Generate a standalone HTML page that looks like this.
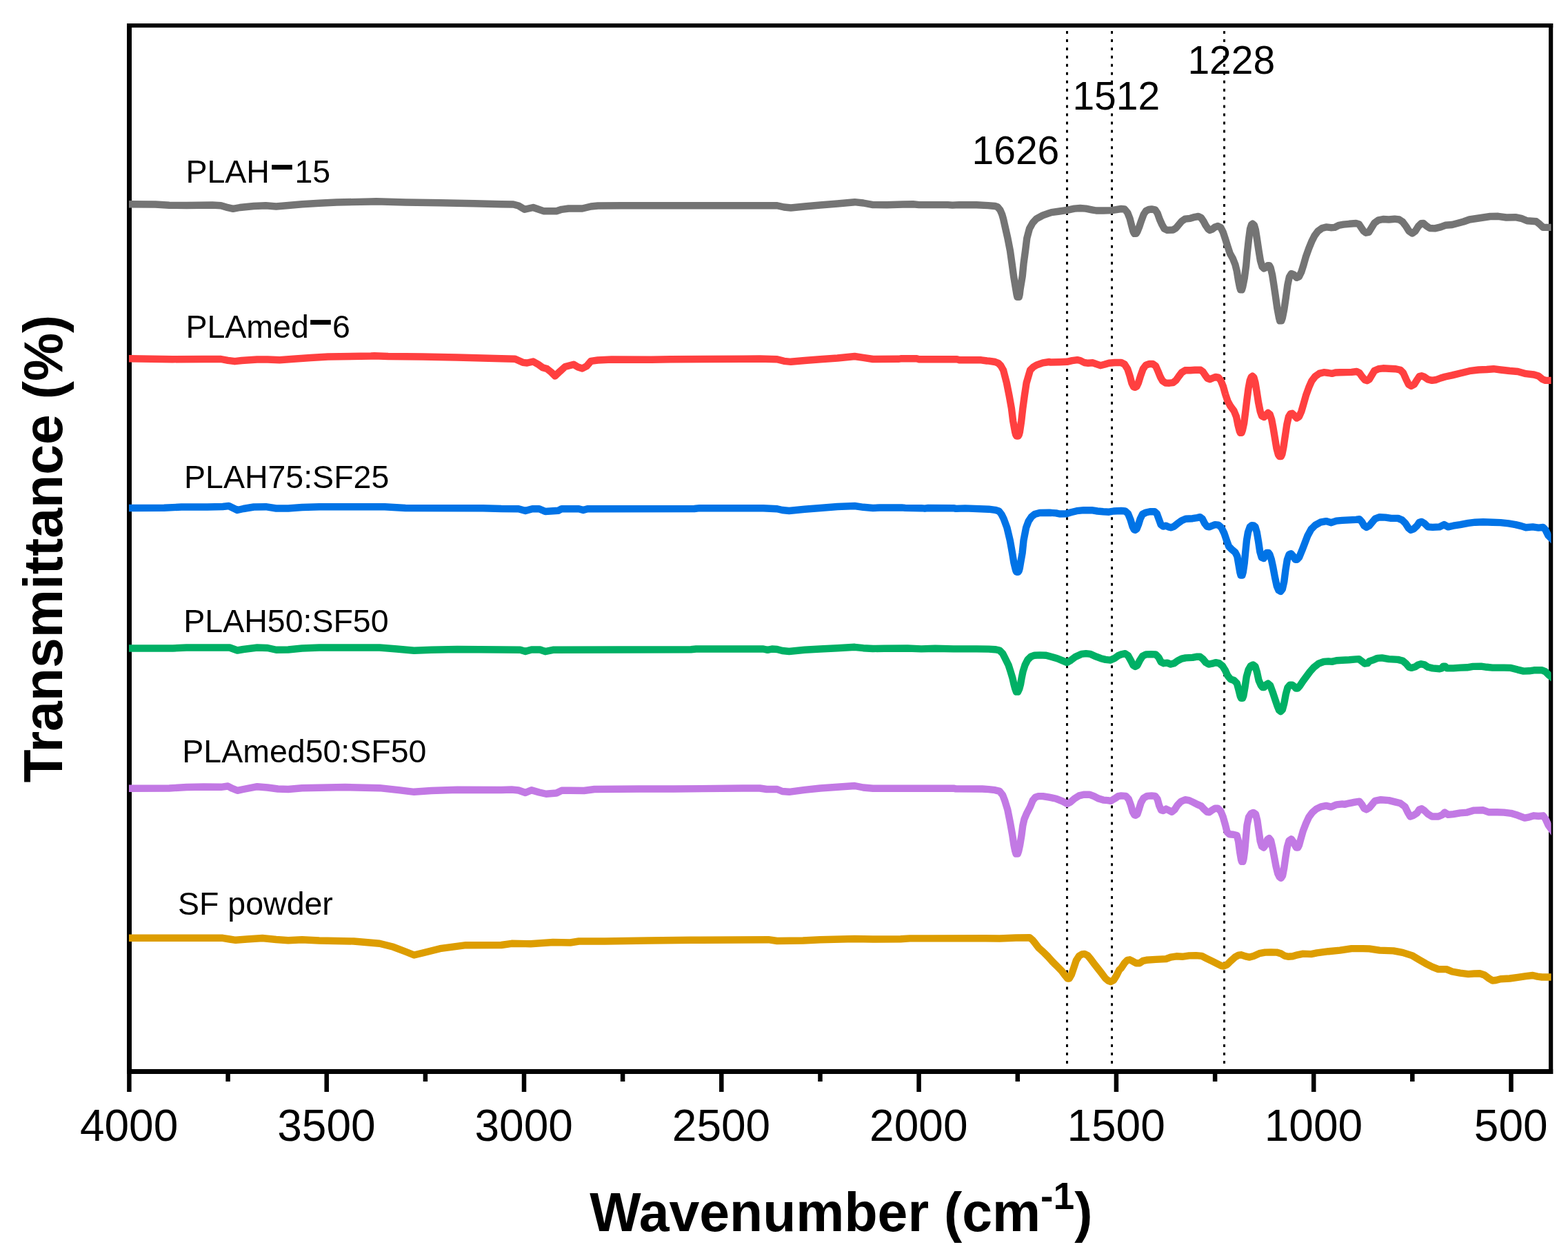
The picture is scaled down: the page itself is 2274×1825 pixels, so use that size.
<!DOCTYPE html>
<html lang="en"><head><meta charset="utf-8"><title>FTIR spectra</title>
<style>
html,body{margin:0;padding:0;background:#fff;}
body{width:2274px;height:1825px;overflow:hidden;}
svg{display:block;}
text{font-family:"Liberation Sans",Arial,Helvetica,sans-serif;fill:#000;}
.tick{font-size:64px;text-anchor:middle;}
.lab{font-size:46.5px;}
.ann{font-size:57px;}
.ax{font-size:78.8px;font-weight:bold;}
.c{fill:none;stroke-width:10.4;stroke-linejoin:round;stroke-linecap:butt;}
.k{stroke:#000;stroke-width:6.5;fill:none;}
.dot{stroke:#000;stroke-width:3;stroke-dasharray:4 7.952;fill:none;}
</style></head><body>
<svg xmlns="http://www.w3.org/2000/svg" width="2274" height="1825" viewBox="0 0 2274 1825">
<rect x="0" y="0" width="2274" height="1825" fill="#fff"/>
<g id="axes">
<rect x="184" y="34" width="7" height="1524" fill="#000"/>
<rect x="2246" y="34" width="6.2" height="1524" fill="#000"/>
<rect x="184" y="34" width="2068.2" height="6" fill="#000"/>
<rect x="184" y="1551" width="2068.2" height="7" fill="#000"/>
<line class="k" x1="187.4" y1="1556" x2="187.4" y2="1584"/>
<line class="k" x1="473.7" y1="1556" x2="473.7" y2="1584"/>
<line class="k" x1="760.0" y1="1556" x2="760.0" y2="1584"/>
<line class="k" x1="1046.3" y1="1556" x2="1046.3" y2="1584"/>
<line class="k" x1="1332.6" y1="1556" x2="1332.6" y2="1584"/>
<line class="k" x1="1618.9" y1="1556" x2="1618.9" y2="1584"/>
<line class="k" x1="1905.2" y1="1556" x2="1905.2" y2="1584"/>
<line class="k" x1="2191.5" y1="1556" x2="2191.5" y2="1584"/>
<line class="k" x1="330.6" y1="1556" x2="330.6" y2="1569"/>
<line class="k" x1="616.9" y1="1556" x2="616.9" y2="1569"/>
<line class="k" x1="903.1" y1="1556" x2="903.1" y2="1569"/>
<line class="k" x1="1189.5" y1="1556" x2="1189.5" y2="1569"/>
<line class="k" x1="1475.8" y1="1556" x2="1475.8" y2="1569"/>
<line class="k" x1="1762.1" y1="1556" x2="1762.1" y2="1569"/>
<line class="k" x1="2048.3" y1="1556" x2="2048.3" y2="1569"/>
</g>
<g id="guides">
<line class="dot" x1="1547.5" y1="45" x2="1547.5" y2="1551"/>
<line class="dot" x1="1612.5" y1="45" x2="1612.5" y2="1551"/>
<line class="dot" x1="1775.5" y1="45" x2="1775.5" y2="1551"/>
</g>
<defs><clipPath id="plotclip"><rect x="187" y="38" width="2062.6" height="1515"/></clipPath></defs>
<g id="spectra" clip-path="url(#plotclip)">
<polyline class="c" stroke="#dd9d00" points="182.0,1360.8 188.0,1360.8 323.0,1360.8 333.0,1362.5 341.8,1363.8 358.0,1362.5 380.5,1361.0 400.5,1363.0 418.0,1364.2 438.0,1363.2 463.0,1364.5 513.0,1365.5 550.5,1368.8 570.5,1373.8 588.0,1380.5 600.5,1385.5 613.0,1382.5 638.0,1376.2 675.5,1371.2 727.0,1371.0 742.0,1368.8 769.5,1369.2 802.0,1367.0 827.0,1367.5 839.5,1365.5 877.0,1365.5 939.5,1364.5 1002.0,1363.8 1114.5,1363.2 1127.0,1365.0 1164.5,1364.5 1189.5,1363.2 1239.5,1362.0 1266.0,1362.5 1306.1,1362.2 1319.4,1361.4 1346.1,1361.4 1429.6,1361.2 1449.7,1361.5 1473.1,1360.5 1493.1,1360.2 1497.3,1363.5 1501.4,1368.6 1506.4,1375.2 1513.1,1381.1 1519.8,1387.8 1526.5,1395.3 1533.2,1401.9 1539.8,1408.6 1544.8,1415.3 1548.2,1419.5 1550.7,1419.5 1554.0,1413.6 1557.4,1403.6 1560.7,1393.6 1564.9,1386.9 1569.1,1384.4 1572.9,1383.9 1577.4,1386.1 1581.6,1391.1 1586.6,1397.8 1592.4,1405.3 1598.3,1412.8 1603.3,1419.5 1607.5,1422.8 1610.8,1424.0 1615.0,1422.0 1619.2,1415.3 1623.3,1407.0 1626.0,1404.5 1631.0,1396.9 1635.2,1392.8 1638.5,1392.3 1642.7,1394.4 1647.7,1397.3 1652.7,1397.3 1657.7,1393.9 1662.7,1392.8 1676.1,1391.9 1691.1,1391.1 1697.8,1388.6 1706.1,1387.3 1714.5,1387.8 1724.5,1386.4 1734.5,1386.1 1742.9,1386.9 1749.6,1390.3 1757.9,1394.4 1766.3,1398.6 1771.3,1401.1 1774.6,1401.6 1779.6,1399.4 1784.6,1394.4 1791.3,1388.3 1796.3,1385.6 1800.5,1385.3 1806.3,1387.3 1812.2,1388.6 1818.0,1386.9 1826.4,1383.2 1834.7,1381.6 1843.1,1381.4 1851.4,1381.6 1858.1,1383.6 1863.1,1386.6 1868.1,1387.8 1874.8,1387.3 1881.5,1385.3 1889.8,1383.6 1901.5,1384.1 1909.9,1382.4 1926.6,1380.2 1943.3,1378.6 1960.0,1376.1 1976.6,1376.1 1985.8,1376.4 2000.8,1378.6 2020.9,1379.4 2034.2,1381.9 2047.6,1386.1 2057.6,1391.9 2067.6,1397.8 2077.6,1402.8 2086.0,1406.1 2097.7,1406.1 2106.0,1409.5 2117.7,1411.6 2129.4,1413.1 2137.7,1412.5 2146.1,1412.3 2152.8,1414.5 2159.5,1419.5 2164.5,1422.5 2169.5,1422.0 2176.2,1420.3 2189.5,1419.5 2201.2,1417.8 2212.9,1416.1 2222.9,1415.0 2229.6,1416.6 2236.3,1417.5 2249.6,1417.5 2255.6,1417.5"/>
<polyline class="c" stroke="#c279e4" points="182.0,1143.8 188.0,1143.8 245.5,1143.5 270.5,1142.0 295.5,1141.5 320.5,1141.8 330.5,1140.5 336.8,1143.8 344.2,1146.8 353.0,1145.0 373.0,1141.2 388.0,1142.5 403.0,1144.5 418.0,1145.0 438.0,1143.2 500.5,1142.0 550.5,1143.2 578.0,1146.2 600.5,1148.8 625.5,1147.0 663.0,1145.8 727.0,1146.0 742.0,1145.5 752.0,1146.5 762.0,1150.0 770.8,1146.2 782.0,1149.5 792.0,1151.8 807.0,1150.5 814.5,1146.8 827.0,1146.8 847.0,1147.0 862.0,1145.0 927.0,1144.5 977.0,1144.5 1077.0,1143.5 1102.0,1143.5 1112.0,1145.0 1127.0,1145.0 1134.5,1148.0 1144.5,1148.8 1167.0,1145.8 1189.5,1143.5 1214.5,1141.8 1239.5,1140.0 1252.0,1142.5 1266.0,1143.7 1382.9,1143.7 1386.2,1144.4 1424.6,1144.5 1433.9,1145.1 1443.1,1146.2 1449.6,1147.9 1454.2,1153.5 1457.0,1160.8 1461.3,1174.7 1465.0,1193.2 1468.3,1211.7 1470.4,1225.6 1472.2,1234.5 1473.5,1238.6 1475.9,1238.6 1477.3,1234.5 1479.2,1225.6 1481.5,1211.7 1483.3,1197.8 1485.4,1188.6 1489.3,1179.3 1494.1,1170.1 1497.7,1161.3 1501.4,1156.7 1506.0,1155.1 1512.4,1155.1 1521.7,1156.7 1530.9,1158.5 1533.2,1159.4 1541.5,1162.7 1547.5,1166.1 1552.4,1163.6 1558.2,1158.6 1564.9,1154.4 1571.6,1152.7 1579.9,1152.7 1586.6,1155.2 1593.3,1158.6 1600.0,1160.6 1606.6,1161.1 1610.8,1161.9 1616.6,1158.6 1621.7,1155.2 1626.0,1154.4 1632.7,1154.9 1636.9,1159.4 1640.2,1168.6 1642.7,1177.8 1645.2,1182.3 1646.9,1182.8 1649.4,1181.1 1651.9,1173.6 1654.7,1164.4 1658.6,1157.7 1663.6,1154.9 1670.2,1154.4 1675.3,1154.9 1678.6,1159.4 1681.1,1168.6 1684.1,1175.3 1686.9,1176.1 1691.1,1173.6 1695.3,1175.6 1699.5,1177.8 1703.6,1174.4 1707.8,1167.8 1712.8,1162.7 1718.7,1160.2 1724.5,1161.1 1730.4,1163.9 1736.2,1166.9 1742.0,1169.4 1746.2,1173.9 1750.4,1177.8 1753.7,1178.3 1757.9,1175.3 1762.1,1172.8 1766.3,1172.8 1770.4,1176.9 1773.8,1185.3 1777.1,1197.0 1779.6,1207.0 1783.0,1210.3 1788.8,1210.7 1793.8,1212.0 1796.0,1220.4 1798.0,1235.4 1800.0,1247.1 1800.9,1249.9 1802.4,1249.9 1803.5,1246.2 1805.2,1233.7 1806.8,1215.3 1808.5,1197.0 1811.0,1185.3 1814.3,1180.3 1817.7,1178.9 1821.0,1181.1 1823.4,1190.3 1825.5,1205.3 1827.7,1220.4 1830.0,1227.9 1832.7,1229.5 1835.6,1225.4 1838.1,1217.8 1840.6,1216.2 1843.1,1219.5 1845.6,1230.4 1848.1,1243.7 1850.6,1257.1 1853.1,1267.1 1855.6,1272.1 1857.8,1273.8 1860.1,1270.4 1862.3,1258.8 1864.4,1243.7 1866.8,1228.7 1869.5,1219.5 1872.8,1217.3 1875.6,1221.2 1878.5,1227.0 1879.9,1229.5 1882.3,1229.5 1884.0,1226.2 1886.5,1217.0 1889.8,1205.3 1894.0,1194.5 1898.2,1185.3 1903.2,1178.6 1909.0,1173.6 1915.7,1170.3 1923.2,1168.9 1930.7,1170.6 1938.2,1167.3 1946.6,1166.4 1949.9,1166.9 1956.6,1165.3 1965.0,1163.6 1971.6,1162.7 1975.0,1166.9 1978.3,1172.8 1981.7,1174.4 1985.8,1171.9 1994.1,1161.9 2002.5,1160.2 2014.2,1161.1 2024.2,1163.6 2030.9,1165.3 2037.6,1170.3 2041.7,1178.6 2045.1,1184.5 2050.1,1182.8 2055.1,1179.4 2058.4,1174.4 2061.8,1173.3 2065.9,1176.1 2071.0,1181.1 2076.8,1184.5 2086.0,1184.5 2091.8,1181.9 2095.2,1178.6 2100.2,1181.9 2107.7,1181.1 2117.7,1179.4 2127.7,1178.6 2137.7,1175.6 2151.1,1175.3 2159.5,1178.3 2171.1,1178.3 2181.2,1178.6 2191.2,1179.8 2201.2,1182.8 2211.2,1186.6 2217.9,1185.3 2224.6,1183.3 2231.3,1184.0 2237.9,1183.3 2241.3,1187.8 2245.4,1197.0 2249.6,1202.8 2255.6,1211.2"/>
<polyline class="c" stroke="#00b065" points="182.0,940.5 188.0,940.5 250.5,940.5 270.5,939.5 333.0,939.5 344.2,943.5 353.0,942.0 373.0,939.5 388.0,940.0 400.5,942.8 418.0,942.5 438.0,940.5 463.0,939.5 550.5,939.5 575.5,941.5 600.5,943.8 625.5,942.8 663.0,942.0 727.0,942.5 754.5,942.8 762.0,945.0 770.8,942.5 783.2,942.5 790.8,945.2 802.0,942.8 1002.0,942.2 1009.5,941.5 1107.0,941.5 1113.2,942.8 1119.5,941.5 1127.0,942.0 1134.5,944.0 1144.5,945.0 1167.0,942.8 1189.5,941.5 1214.5,940.2 1239.5,938.8 1252.0,940.2 1266.0,941.0 1282.7,940.7 1316.1,940.5 1336.1,941.4 1356.2,940.7 1382.9,941.4 1416.3,941.4 1433.9,941.6 1443.1,942.2 1449.6,943.5 1454.2,948.1 1457.0,953.6 1462.5,964.7 1465.5,974.0 1468.3,983.2 1470.4,992.4 1472.3,999.3 1473.9,1003.6 1476.2,1003.6 1478.3,999.3 1480.1,992.4 1481.7,983.2 1483.6,974.0 1486.6,964.7 1490.3,957.3 1494.9,952.7 1500.4,950.7 1507.8,950.4 1517.1,950.8 1526.3,953.2 1533.2,955.2 1541.5,958.6 1547.5,961.1 1553.2,957.7 1559.9,952.7 1568.2,948.9 1574.9,948.2 1581.6,948.9 1589.9,952.7 1596.6,955.2 1603.3,956.9 1610.0,957.7 1616.6,954.9 1621.7,951.1 1626.0,949.4 1631.8,948.2 1636.0,951.1 1640.2,958.6 1643.5,965.3 1646.4,966.9 1649.4,965.3 1652.7,958.6 1656.9,951.9 1661.9,949.4 1669.4,949.1 1676.1,949.4 1680.3,953.6 1683.6,960.2 1687.8,962.2 1692.8,961.6 1697.8,963.6 1702.8,962.2 1707.8,958.6 1713.7,955.6 1719.5,954.4 1729.5,953.9 1736.2,952.7 1740.4,952.7 1744.6,956.1 1748.7,961.1 1752.9,963.6 1757.9,962.7 1762.9,961.1 1767.9,962.2 1772.9,966.1 1777.1,972.8 1780.5,980.3 1784.6,985.3 1789.6,987.0 1793.8,991.1 1796.3,1000.3 1798.8,1010.3 1800.0,1012.8 1802.0,1012.8 1803.3,1009.5 1805.5,997.0 1807.7,981.9 1810.5,971.9 1813.8,966.1 1817.2,964.4 1820.5,966.9 1823.0,975.3 1825.5,987.0 1828.9,994.5 1830.9,997.0 1833.5,997.0 1835.6,993.6 1838.9,991.6 1842.2,994.5 1845.6,1003.7 1848.9,1013.7 1852.3,1023.7 1855.1,1030.4 1857.3,1032.0 1859.8,1029.5 1862.3,1020.4 1864.8,1007.0 1867.3,997.8 1870.6,993.6 1874.0,993.6 1877.3,996.1 1879.3,998.6 1881.9,998.6 1884.8,995.3 1889.8,987.8 1894.8,981.1 1899.8,974.4 1905.7,967.8 1912.4,962.7 1919.9,959.9 1926.6,959.4 1931.6,959.9 1938.2,958.2 1946.6,957.7 1956.6,957.2 1966.6,956.4 1970.8,956.1 1975.0,959.4 1979.2,962.7 1983.3,962.2 1985.8,959.4 1990.8,957.7 1997.5,954.9 2004.2,954.4 2014.2,956.1 2027.5,956.9 2034.2,958.6 2039.2,962.7 2043.4,967.8 2046.7,968.9 2052.6,967.3 2056.8,964.4 2060.9,963.2 2065.9,964.4 2071.0,967.8 2077.6,969.4 2087.7,970.3 2091.0,969.4 2093.0,966.6 2095.6,966.6 2098.5,969.4 2107.7,969.4 2117.7,968.6 2127.7,968.3 2136.1,966.9 2147.8,966.6 2156.1,967.8 2164.5,968.6 2181.2,968.6 2191.2,968.9 2201.2,971.6 2209.5,973.6 2217.9,973.3 2224.6,972.3 2236.3,972.3 2241.3,974.4 2246.3,979.4 2249.6,981.9 2255.6,986.4"/>
<polyline class="c" stroke="#0073e6" points="182.0,737.0 188.0,737.0 238.0,736.8 263.0,735.5 300.5,735.5 323.0,735.0 331.8,734.0 338.0,737.0 344.2,740.0 353.0,738.0 368.0,735.5 385.5,735.2 400.5,737.5 418.0,737.5 438.0,736.0 463.0,735.2 558.0,735.2 588.0,737.0 700.5,737.2 727.0,738.0 752.0,738.2 762.0,741.0 772.0,738.2 782.0,738.2 790.8,742.0 809.5,740.8 814.5,738.2 839.5,738.2 845.8,740.0 852.0,738.2 1007.0,738.0 1014.5,737.2 1107.0,737.2 1127.0,738.2 1134.5,740.0 1144.5,741.0 1167.0,738.8 1189.5,737.0 1214.5,735.0 1239.5,734.0 1252.0,735.8 1266.0,737.0 1276.0,736.5 1307.7,736.4 1312.8,736.9 1336.1,737.2 1341.1,737.7 1346.1,737.0 1382.9,737.2 1386.2,737.9 1399.6,737.4 1433.9,738.7 1443.1,739.8 1448.7,741.4 1452.4,746.1 1455.6,752.5 1460.4,765.5 1464.8,784.0 1468.1,802.4 1470.4,816.3 1472.4,824.5 1473.4,828.0 1474.3,829.7 1476.7,829.7 1477.7,828.0 1478.7,824.5 1480.1,816.3 1482.6,802.4 1484.5,784.0 1488.1,765.5 1491.6,756.2 1495.8,749.8 1500.4,746.1 1507.8,744.0 1521.7,743.7 1531.5,744.4 1536.5,745.5 1546.5,745.2 1553.2,743.2 1561.5,741.2 1571.6,740.2 1583.3,740.2 1591.6,741.5 1600.0,742.2 1608.3,742.7 1615.0,741.5 1626.0,741.0 1631.8,741.5 1636.0,745.2 1639.4,753.6 1642.4,763.6 1644.7,768.3 1646.4,768.9 1648.5,767.3 1651.0,761.1 1653.6,752.7 1656.9,746.0 1661.9,743.5 1667.7,742.2 1674.4,742.2 1677.8,745.2 1680.8,753.6 1683.6,761.1 1686.9,763.6 1691.1,762.7 1694.5,764.4 1698.6,765.3 1702.8,763.6 1707.8,759.4 1713.7,755.2 1719.5,752.7 1729.5,752.2 1736.2,751.1 1740.4,750.2 1743.7,752.7 1747.1,759.4 1750.4,763.6 1753.7,764.4 1757.9,762.7 1762.1,761.1 1767.1,761.6 1771.3,765.3 1775.4,773.6 1778.8,783.6 1782.1,792.8 1786.3,797.0 1791.3,801.2 1794.3,807.0 1796.3,818.7 1798.3,830.4 1799.5,834.5 1801.5,834.5 1802.7,830.4 1804.7,817.0 1806.3,800.3 1808.0,783.6 1810.0,771.9 1812.7,764.4 1815.5,762.2 1818.0,762.4 1820.5,764.4 1822.7,771.9 1825.0,785.3 1827.2,800.3 1829.7,808.7 1832.7,810.0 1835.6,805.3 1837.1,802.0 1839.7,802.0 1841.4,804.5 1843.9,812.0 1846.4,823.7 1848.9,837.1 1851.8,850.4 1854.4,856.3 1857.3,857.9 1859.8,854.6 1862.3,843.7 1864.4,827.0 1866.8,812.0 1869.5,804.5 1872.3,803.2 1875.6,807.0 1878.5,811.7 1881.1,811.7 1884.0,808.7 1888.2,798.6 1892.3,787.8 1896.5,776.9 1901.5,767.8 1907.4,761.9 1914.9,757.7 1923.2,756.1 1930.7,758.2 1938.2,755.6 1946.6,754.9 1956.6,754.4 1966.6,753.9 1971.6,753.2 1975.0,756.9 1978.3,762.7 1981.7,764.9 1985.8,762.7 1994.1,752.7 2000.8,750.2 2009.2,750.6 2017.5,751.9 2027.5,751.9 2033.4,754.4 2038.4,759.4 2042.6,766.1 2045.9,768.9 2050.1,767.3 2055.1,762.7 2058.4,757.7 2061.8,756.9 2065.9,759.4 2071.0,764.4 2077.6,764.9 2087.7,764.4 2094.3,761.1 2100.2,764.4 2107.7,762.7 2117.7,761.1 2129.4,758.9 2139.4,757.7 2151.1,757.2 2164.5,757.7 2176.2,758.1 2187.8,759.4 2197.9,761.1 2206.2,763.1 2212.9,765.3 2222.9,764.4 2231.3,765.6 2237.9,764.9 2241.3,768.6 2245.4,776.9 2249.6,781.1 2255.6,787.1"/>
<polyline class="c" stroke="#ff4040" points="182.0,520.2 188.0,520.2 250.5,521.2 295.5,521.0 320.5,521.0 330.5,522.8 340.5,524.2 350.5,523.0 373.0,521.5 388.0,521.5 405.5,522.2 425.5,520.8 450.5,519.0 475.5,517.5 538.0,516.5 543.0,516.2 563.0,517.0 613.0,517.5 663.0,518.5 727.0,520.2 747.0,520.8 758.2,525.8 764.5,526.5 773.2,524.5 780.8,528.8 787.0,533.2 793.2,535.0 799.5,540.0 805.0,545.5 812.0,538.8 819.5,532.0 832.0,528.8 838.2,532.5 844.5,534.5 850.8,531.2 857.0,523.8 867.0,522.5 887.0,521.5 944.5,521.8 972.0,521.2 1077.0,520.8 1102.0,520.5 1127.0,521.2 1137.0,523.8 1147.0,524.8 1167.0,523.0 1189.5,521.2 1214.5,519.5 1239.5,517.0 1252.0,518.8 1266.0,521.0 1302.7,520.8 1306.1,520.3 1329.5,520.3 1332.8,521.2 1387.9,521.3 1391.2,522.2 1423.0,522.3 1431.3,523.5 1433.9,523.6 1443.1,525.0 1447.7,526.8 1451.4,530.5 1455.1,537.0 1459.9,555.5 1463.6,574.0 1466.9,592.4 1469.2,610.9 1472.1,626.5 1473.2,630.5 1474.3,632.6 1476.7,632.6 1477.8,630.5 1478.9,626.5 1481.2,610.9 1483.3,592.4 1485.8,574.0 1488.6,555.5 1494.0,537.0 1498.6,532.4 1503.2,529.6 1512.4,526.3 1521.7,525.0 1523.1,525.5 1536.5,525.2 1547.5,524.8 1554.9,523.2 1562.4,522.2 1566.6,523.0 1572.4,526.0 1578.2,526.8 1584.9,526.3 1589.9,528.2 1595.8,530.2 1601.6,528.8 1608.3,526.8 1616.6,526.0 1626.0,526.0 1631.0,528.5 1635.2,535.2 1638.5,545.2 1641.4,556.0 1644.0,561.1 1646.0,561.9 1648.5,560.6 1651.0,555.2 1654.1,545.2 1657.7,535.2 1661.9,529.7 1666.9,528.0 1671.9,528.0 1676.1,531.0 1679.4,538.5 1682.8,546.9 1686.1,552.7 1690.3,555.5 1696.1,555.7 1701.1,555.2 1705.3,551.9 1709.5,546.0 1713.7,540.5 1718.7,537.3 1726.2,537.2 1732.9,536.8 1741.2,536.8 1744.6,539.4 1747.9,544.4 1751.2,548.9 1754.6,550.2 1758.7,548.5 1762.9,546.9 1767.1,547.7 1770.4,551.9 1773.8,560.2 1777.1,571.9 1780.5,581.9 1784.6,589.4 1789.6,596.1 1793.0,604.5 1795.5,617.0 1797.7,625.3 1798.8,627.8 1800.6,627.8 1801.8,624.5 1804.2,613.7 1806.3,597.0 1808.3,580.3 1810.5,563.6 1812.7,551.9 1814.7,546.9 1816.4,545.7 1818.4,547.7 1820.5,555.2 1822.7,568.6 1825.0,583.6 1827.7,597.0 1830.0,603.6 1833.1,605.0 1836.1,602.0 1838.9,599.0 1841.7,601.1 1844.2,608.6 1846.4,620.3 1848.9,635.4 1851.4,650.4 1853.9,659.6 1855.6,662.1 1857.9,662.1 1859.3,659.1 1861.4,648.7 1863.9,632.0 1866.4,615.3 1868.9,604.5 1871.5,600.3 1874.0,599.8 1877.3,602.8 1880.6,606.5 1884.0,604.5 1887.3,597.0 1890.7,585.3 1894.0,573.6 1898.2,561.9 1902.3,552.7 1907.4,546.0 1913.2,541.9 1919.9,540.2 1926.6,541.0 1931.6,541.9 1936.6,540.5 1943.3,540.2 1960.0,539.9 1967.5,539.0 1971.6,541.0 1975.8,546.9 1979.2,551.0 1982.5,552.2 1985.8,550.2 1993.3,537.7 1999.2,535.2 2005.8,534.3 2014.2,534.8 2024.2,535.2 2030.9,536.8 2035.1,541.0 2039.2,550.2 2042.9,557.7 2046.7,559.9 2050.9,557.7 2055.1,551.0 2058.4,546.0 2061.8,545.2 2065.9,546.9 2071.0,550.5 2076.8,551.9 2082.6,551.0 2089.3,548.5 2096.0,546.5 2106.0,544.4 2117.7,541.5 2131.1,538.2 2144.4,536.5 2156.1,536.0 2166.1,535.2 2176.2,536.5 2189.5,538.0 2201.2,539.0 2212.9,542.2 2224.6,543.5 2231.3,545.5 2237.1,550.2 2241.3,551.9 2249.6,551.9 2255.6,551.9"/>
<polyline class="c" stroke="#747474" points="182.0,296.2 188.0,296.2 225.5,296.5 245.5,297.8 270.5,298.0 308.0,297.5 320.5,298.2 330.5,301.2 338.0,302.8 348.0,301.0 368.0,299.0 385.5,298.2 400.5,299.5 418.0,298.0 438.0,296.2 463.0,294.8 488.0,293.5 538.0,292.5 545.5,292.2 588.0,293.5 638.0,294.2 688.0,295.2 727.0,296.2 744.5,296.5 752.0,298.5 760.8,303.8 773.2,301.0 788.2,306.2 807.0,306.2 814.5,303.8 824.5,302.5 844.5,302.5 857.0,299.5 867.0,298.5 902.0,298.2 1127.0,298.2 1137.0,300.5 1147.0,301.5 1167.0,299.5 1189.5,297.5 1214.5,295.5 1239.5,293.2 1252.0,294.5 1266.0,297.1 1286.0,297.3 1309.4,296.5 1324.4,296.3 1332.8,297.1 1374.5,297.1 1381.2,297.6 1391.2,297.1 1416.3,297.3 1433.0,298.1 1443.1,299.0 1446.8,300.2 1450.5,304.8 1453.3,311.3 1455.1,317.7 1457.2,327.0 1461.4,345.5 1465.0,364.0 1467.6,382.4 1470.1,400.9 1473.2,419.4 1474.6,427.5 1475.4,430.8 1477.8,430.8 1478.6,427.5 1479.6,419.4 1482.7,400.9 1484.5,382.4 1487.0,364.0 1489.3,345.5 1493.0,331.6 1497.7,323.3 1503.2,317.3 1512.4,312.4 1521.7,309.1 1524.8,308.1 1536.5,306.5 1547.5,304.8 1558.2,302.6 1566.6,302.0 1574.9,302.6 1583.3,304.3 1589.9,305.5 1600.0,305.5 1612.5,305.1 1626.0,303.0 1631.0,303.5 1635.2,308.5 1638.5,316.8 1641.0,326.8 1643.5,336.0 1645.1,338.9 1647.6,338.9 1649.4,336.0 1652.4,328.5 1655.2,320.2 1658.6,311.0 1661.9,306.0 1666.1,304.0 1670.2,303.5 1675.3,304.3 1678.6,309.3 1681.9,318.5 1685.3,326.0 1688.6,331.9 1692.8,333.9 1701.1,333.5 1705.3,331.0 1709.5,326.0 1713.7,321.0 1718.7,317.7 1726.2,316.8 1732.9,314.8 1737.9,314.0 1742.0,316.0 1745.4,321.0 1748.7,327.2 1752.1,332.2 1754.6,333.9 1757.9,332.7 1762.1,329.4 1766.3,328.0 1770.4,330.2 1773.8,336.9 1777.1,346.9 1780.5,357.7 1783.8,367.8 1788.0,375.3 1791.3,383.6 1793.8,393.6 1796.0,407.0 1798.0,417.0 1799.1,420.4 1800.9,420.4 1802.2,416.2 1804.7,403.7 1807.2,385.3 1808.8,366.9 1811.0,346.9 1813.0,331.9 1815.0,326.0 1816.7,324.7 1818.9,326.8 1820.9,333.5 1823.0,346.9 1825.5,363.6 1828.0,378.6 1830.5,387.0 1833.1,389.5 1836.4,387.8 1838.4,385.3 1841.0,385.3 1842.7,388.6 1845.1,398.6 1847.2,412.0 1849.7,428.7 1852.3,447.1 1854.8,460.4 1856.1,465.4 1858.4,465.4 1859.8,461.3 1862.3,448.7 1864.8,432.0 1867.3,413.7 1869.8,402.0 1872.8,397.0 1876.5,398.6 1880.6,402.8 1884.0,401.2 1887.3,394.5 1890.7,383.6 1894.0,371.9 1898.2,360.2 1902.3,350.2 1906.5,341.9 1911.5,335.2 1917.4,331.0 1923.2,329.4 1929.9,330.2 1935.7,329.9 1941.6,326.8 1948.3,325.7 1956.6,324.8 1966.6,324.0 1970.8,325.2 1974.1,330.2 1977.5,335.2 1980.8,337.7 1985.0,336.9 1993.3,323.5 1999.2,319.3 2005.8,318.0 2014.2,318.5 2022.5,317.7 2029.2,318.5 2034.2,321.8 2039.2,328.5 2043.4,335.2 2048.1,338.5 2052.6,335.2 2056.8,328.5 2060.9,324.3 2064.3,324.0 2068.5,327.7 2073.5,331.0 2081.0,331.4 2089.3,329.4 2096.0,326.8 2106.0,326.0 2114.4,323.8 2122.7,321.5 2131.1,318.5 2147.8,316.0 2161.1,314.0 2172.8,313.8 2184.5,315.5 2197.9,315.2 2206.2,316.8 2214.6,320.2 2227.9,321.3 2232.9,325.2 2237.9,329.9 2249.6,329.9 2255.6,329.9"/>
</g>
<g id="ticklabels">
<text class="tick" x="187.1" y="1655">4000</text>
<text class="tick" x="473.4" y="1655">3500</text>
<text class="tick" x="759.7" y="1655">3000</text>
<text class="tick" x="1046.0" y="1655">2500</text>
<text class="tick" x="1332.3" y="1655">2000</text>
<text class="tick" x="1618.6" y="1655">1500</text>
<text class="tick" x="1904.9" y="1655">1000</text>
<text class="tick" x="2191.2" y="1655">500</text>
</g>
<g id="labels">
<text class="lab" x="269.4" y="265">PLAH<tspan x="389.5" y="257.6" font-weight="bold" font-size="57" textLength="39" lengthAdjust="spacingAndGlyphs">-</tspan><tspan x="427.5" y="265">15</tspan></text>
<text class="lab" x="269.4" y="490">PLAmed<tspan x="445.5" y="482.6" font-weight="bold" font-size="57" textLength="39" lengthAdjust="spacingAndGlyphs">-</tspan><tspan x="482" y="490">6</tspan></text>
<text class="lab" x="267" y="707.5">PLAH75:SF25</text>
<text class="lab" x="266.3" y="916.5">PLAH50:SF50</text>
<text class="lab" x="264.3" y="1105.7">PLAmed50:SF50</text>
<text class="lab" x="258" y="1327">SF powder</text>
<text class="ann" x="1409.5" y="238">1626</text>
<text class="ann" x="1555.4" y="159">1512</text>
<text class="ann" x="1722.4" y="107">1228</text>
</g>
<text class="ax" x="855.2" y="1785.5">Wavenumber (cm<tspan font-size="55.2" dy="-31.7">-1</tspan><tspan dy="31.7">)</tspan></text>
<text class="ax" transform="translate(90.0,1135.4) rotate(-90)">Transmittance (%)</text>
</svg>
</body></html>
